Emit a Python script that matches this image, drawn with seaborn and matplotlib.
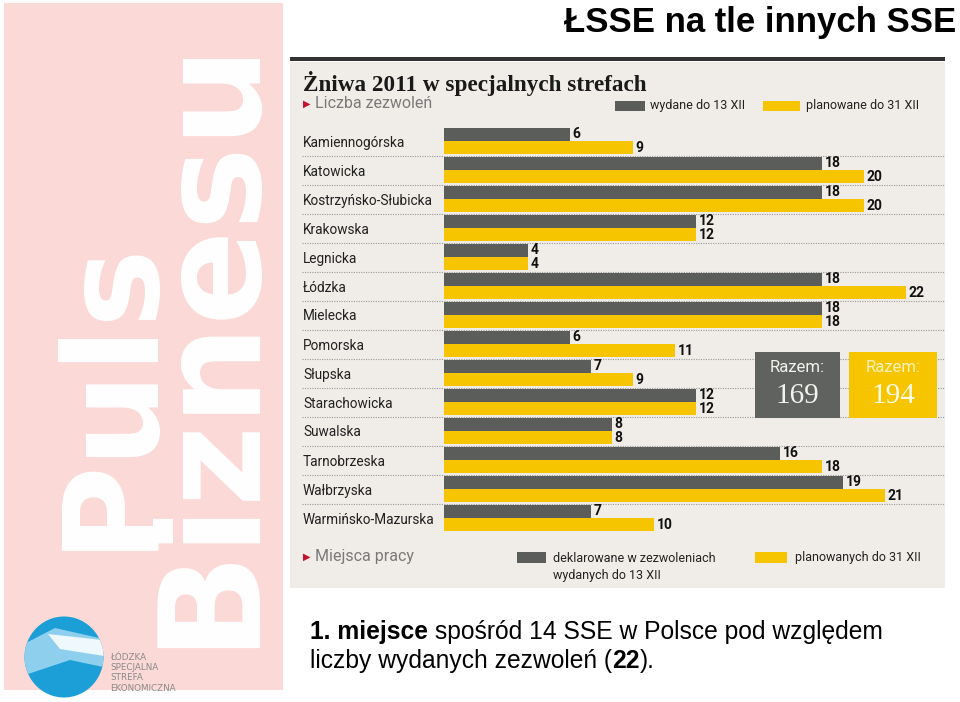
import matplotlib
matplotlib.use("Agg")
import matplotlib.pyplot as plt
from matplotlib.patches import Rectangle, Ellipse, Polygon
import seaborn as sns
import pandas as pd

# dane z wykresu
strefy = ["Kamiennogórska", "Katowicka", "Kostrzyńsko-Słubicka", "Krakowska", "Legnicka",
          "Łódzka", "Mielecka", "Pomorska", "Słupska", "Starachowicka", "Suwalska",
          "Tarnobrzeska", "Wałbrzyska", "Warmińsko-Mazurska"]
wydane = [6, 18, 18, 12, 4, 18, 18, 6, 7, 12, 8, 16, 19, 7]
planowane = [9, 20, 20, 12, 4, 22, 18, 11, 9, 12, 8, 18, 21, 10]
serie = ["wydane do 13 XII", "planowane do 31 XII"]
razem = [169, 194]

DARK = "#5b5d5a"
YELLOW = "#f6c500"
BG = "#f0ece7"
PINK = "#fbd9d6"

W, H = 960, 702


def fx(x):
    return x / W


def fy(y):
    return 1 - y / H


def rect(x0, y0, x1, y1, color, z=-1, **kw):
    r = Rectangle((fx(x0), fy(y1)), (x1 - x0) / W, (y1 - y0) / H, transform=fig.transFigure,
                  facecolor=color, edgecolor="none", zorder=z, **kw)
    fig.add_artist(r)
    return r


df = pd.DataFrame({
    "strefa": strefy * 2,
    "wartosc": wydane + planowane,
    "seria": [serie[0]] * len(strefy) + [serie[1]] * len(strefy),
})

fig = plt.figure(figsize=(9.6, 7.02), dpi=100)
fig.patch.set_facecolor("white")

# tła
rect(4, 3, 283, 690, PINK)
rect(290, 62, 945, 588, BG)
rect(290, 57, 945, 61, "#333333")

# wykres słupkowy
ax = fig.add_axes([fx(444), fy(532.5), 504 / W, 406 / H])
ax.set_facecolor("none")
sns.barplot(data=df, x="wartosc", y="strefa", hue="seria", orient="h",
            palette=[DARK, YELLOW], width=0.9, saturation=1, linewidth=0,
            errorbar=None, legend=False, ax=ax)
ax.set_xlim(0, 24)
ax.set_ylim(13.5, -0.5)
ax.set_xlabel("")
ax.set_ylabel("")
ax.set_xticks([])
for s in ax.spines.values():
    s.set_visible(False)
ax.tick_params(axis="y", length=0, pad=101.5)
for lab in ax.get_yticklabels():
    lab.set_ha("left")
    lab.set_fontsize(9.8)
    lab.set_fontfamily("Roboto")
    lab.set_color("#222222")
for c in ax.containers:
    ax.bar_label(c, padding=2, fontsize=10, fontweight="bold", fontfamily="Roboto", color="#111111")
ax.hlines([i + 0.5 for i in range(len(strefy) - 1)], xmin=-6.75, xmax=23.85, colors="#9a9a9a",
          linestyles=(0, (1, 1.2)), linewidth=0.8, clip_on=False, zorder=0)

# tytuł wykresu
fig.text(fx(303), fy(83), "Żniwa 2011 w specjalnych strefach", family="Liberation Serif",
         weight="bold", fontsize=16.7, color="#1a1a1a", va="center")
fig.text(fx(303), fy(104), "▶", family="DejaVu Sans", fontsize=7, color="#c4122f", va="center")
fig.text(fx(315), fy(104), "Liczba zezwoleń", family="Roboto", fontsize=11.5, color="#7a7a7a", va="center")

# legenda górna
rect(615, 101, 645, 111, DARK, z=2)
fig.text(fx(650), fy(106), serie[0], family="Roboto", fontsize=9, color="#222222", va="center")
rect(763, 101, 800, 111, YELLOW, z=2)
fig.text(fx(806), fy(106), serie[1], family="Roboto", fontsize=9, color="#222222", va="center")

# pola "Razem"
rect(755, 352, 840, 418, "#5f625f", z=2)
fig.text(fx(797), fy(368), "Razem:", family="Roboto", fontsize=12, color="#f2f2ee", ha="center", va="center")
fig.text(fx(797), fy(396), str(razem[0]), family="Liberation Serif", fontsize=21, color="#f2f2ee",
         ha="center", va="center")
rect(849, 352, 937, 418, YELLOW, z=2)
fig.text(fx(893), fy(368), "Razem:", family="Roboto", fontsize=12, color="#fff2bf", ha="center", va="center")
fig.text(fx(893), fy(396), str(razem[1]), family="Liberation Serif", fontsize=21, color="#fffbe8",
         ha="center", va="center")

# legenda dolna
fig.text(fx(303), fy(557), "▶", family="DejaVu Sans", fontsize=7, color="#c4122f", va="center")
fig.text(fx(315), fy(557), "Miejsca pracy", family="Roboto", fontsize=11.5, color="#7a7a7a", va="center")
rect(517, 552, 546, 563, DARK, z=2)
fig.text(fx(553), fy(558), "deklarowane w zezwoleniach", family="Roboto", fontsize=9, color="#222222", va="center")
fig.text(fx(553), fy(576), "wydanych do 13 XII", family="Roboto", fontsize=9, color="#222222", va="center")
rect(755, 552, 787, 563, YELLOW, z=2)
fig.text(fx(795), fy(558), "planowanych do 31 XII", family="Roboto", fontsize=9, color="#222222", va="center")

# tytuł slajdu
fig.text(fx(956), fy(32), "ŁSSE na tle innych SSE", family="Liberation Sans", fontsize=25,
         weight="bold", color="black", ha="right", va="baseline")

# Puls Biznesu
fig.text(fx(248), fy(341), "Biznesu", family="DejaVu Sans", weight="bold", fontsize=101,
         color="white", rotation=90, rotation_mode="anchor", ha="center", va="baseline")
fig.text(fx(147), fy(393), "Puls", family="DejaVu Sans", weight="bold", fontsize=95,
         color="white", rotation=90, rotation_mode="anchor", ha="center", va="baseline")

# logo
el = Ellipse((fx(64), fy(657)), 79 / W, 81 / H, transform=fig.transFigure, facecolor="#1b9fd6",
             edgecolor="none", zorder=3)
fig.add_artist(el)
band = Polygon([(fx(x), fy(y)) for x, y in [(22, 645), (55, 628), (108, 640), (108, 668), (70, 660), (22, 676)]],
               closed=True, transform=fig.transFigure, facecolor="#8fcfee", edgecolor="none", zorder=4)
fig.add_artist(band)
band.set_clip_path(el)
white = Polygon([(fx(x), fy(y)) for x, y in [(48, 634), (102, 640), (104, 656), (60, 649)]],
                closed=True, transform=fig.transFigure, facecolor="#eef8fd", edgecolor="none", zorder=5)
fig.add_artist(white)
white.set_clip_path(el)
for i, t in enumerate(["ŁÓDZKA", "SPECJALNA", "STREFA", "EKONOMICZNA"]):
    fig.text(fx(110), fy(657 + i * 10.4), t, family="DejaVu Sans", fontsize=6.3, color="#8a8a8a", va="center",
             zorder=6)

# podpis z wyróżnieniami
renderer = fig.canvas.get_renderer()


def runs(x, y, parts):
    for txt, bold in parts:
        t = fig.text(x, y, txt, family="Liberation Sans", fontsize=17.7,
                     weight="bold" if bold else "normal", va="baseline")
        bb = t.get_window_extent(renderer)
        x = bb.x1 / (fig.get_figwidth() * fig.dpi)


runs(fx(310), fy(639), [("1. miejsce", True), (" spośród 14 SSE w Polsce pod względem", False)])
runs(fx(310), fy(668), [("liczby wydanych zezwoleń (", False), ("22", True), (").", False)])

fig.savefig("out.png", dpi=100)
